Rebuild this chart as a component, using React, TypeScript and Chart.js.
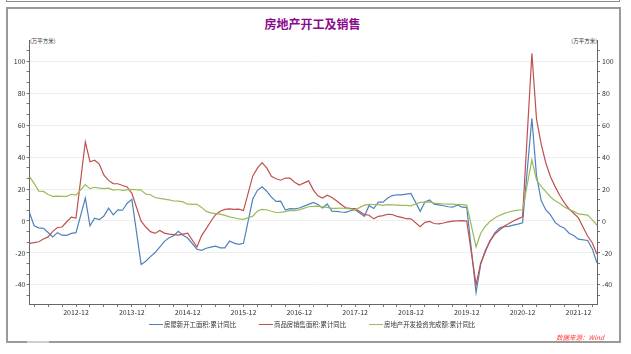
import React, { useEffect, useRef } from 'react';
import { Chart, registerables } from 'chart.js';

Chart.register(...registerables);

// Months with data (Jan is folded into Feb in cumulative statistics)
const firstYear = 2012;
const lastYear = 2022;
const lastMonthOfLastYear = 4;
const monthLabels: string[] = [];
for (let y = firstYear; y <= lastYear; y++) {
  for (let m = 2; m <= 12; m++) {
    if (y === lastYear && m > lastMonthOfLastYear) break;
    monthLabels.push(`${y}-${String(m).padStart(2, '0')}`);
  }
}

const seriesNames = ['房屋新开工面积:累计同比', '商品房销售面积:累计同比', '房地产开发投资完成额:累计同比'];
const seriesColors = ['#4f81bd', '#c0504d', '#9bbb59'];

// 房屋新开工面积:累计同比 (Feb..Dec per year)
const newStarts = [
  5.1, -3.0, -4.3, -4.6, -7.2, -10.0, -7.3, -8.9, -9.0, -7.8, -7.3,
  14.3, -3.1, 1.7, 0.8, 3.1, 8.0, 3.8, 6.9, 6.7, 11.1, 13.5,
  -27.2, -25.2, -22.3, -19.8, -16.4, -12.8, -10.5, -9.3, -6.5, -9.0, -10.7,
  -17.7, -18.4, -17.1, -16.4, -15.8, -16.8, -16.8, -12.6, -13.9, -14.7, -14.0,
  13.7, 19.2, 21.4, 18.6, 14.9, 12.2, 12.4, 6.8, 7.7, 7.6, 8.1,
  10.4, 11.6, 10.3, 8.1, 10.6, 6.2, 6.0, 5.6, 5.4, 6.4, 7.0,
  2.9, 9.7, 7.8, 11.8, 11.8, 14.4, 15.9, 16.4, 16.3, 16.8, 17.2,
  6.0, 11.9, 13.1, 10.5, 10.1, 9.5, 8.9, 8.6, 10.0, 8.6, 8.5,
  -44.9, -27.2, -18.4, -12.8, -7.6, -4.5, -3.6, -3.4, -2.6, -2.0, -1.2,
  64.3, 28.2, 12.8, 6.9, 3.8, -0.9, -3.2, -4.5, -7.7, -9.1, -11.4,
  -12.2, -17.5, -26.3,
];

// 商品房销售面积:累计同比
const sales = [
  -14.0, -13.6, -13.0, -11.3, -10.0, -6.5, -4.1, -3.8, -0.5, 2.4, 1.8,
  49.5, 37.1, 38.0, 35.6, 28.7, 25.4, 23.4, 23.3, 22.2, 21.3, 17.3,
  -0.1, -3.8, -6.7, -7.8, -6.0, -7.6, -8.3, -8.6, -8.9, -8.2, -7.6,
  -16.3, -9.2, -4.8, -0.2, 3.9, 6.1, 7.2, 7.5, 7.2, 7.4, 6.5,
  28.2, 33.1, 36.5, 33.2, 27.9, 26.4, 25.5, 26.9, 26.8, 24.3, 22.5,
  25.1, 19.5, 15.7, 14.3, 16.1, 14.7, 12.7, 10.3, 8.2, 7.9, 7.7,
  4.1, 3.6, 1.3, 2.9, 3.3, 4.2, 4.0, 2.9, 2.2, 1.4, 1.3,
  -3.6, -0.9, -0.3, -1.6, -1.8, -1.3, -0.6, -0.1, 0.1, 0.2, -0.1,
  -39.9, -26.3, -19.3, -12.3, -8.4, -5.8, -3.3, -1.8, 0.0, 1.3, 2.6,
  104.9, 63.8, 48.1, 36.3, 27.7, 21.5, 15.9, 11.3, 7.5, 4.8, 1.9,
  -9.6, -13.8, -20.9,
];

// 房地产开发投资完成额:累计同比
const investment = [
  27.8, 23.5, 18.7, 18.5, 16.6, 15.4, 15.6, 15.4, 15.4, 16.7, 16.2,
  22.8, 20.2, 21.1, 20.6, 20.3, 20.5, 19.3, 19.7, 19.2, 19.5, 19.8,
  19.3, 16.8, 16.4, 14.7, 14.1, 13.7, 13.2, 12.5, 12.4, 11.9, 10.5,
  10.4, 8.5, 6.0, 5.1, 4.6, 4.3, 3.5, 2.6, 2.0, 1.3, 1.0,
  3.0, 6.2, 7.2, 7.0, 6.1, 5.3, 5.4, 5.8, 6.6, 6.5, 6.9,
  8.9, 9.1, 9.3, 8.8, 8.5, 7.9, 7.9, 8.1, 7.8, 7.5, 7.0,
  9.9, 10.4, 10.3, 10.2, 9.7, 10.2, 10.1, 9.9, 9.7, 9.7, 9.5,
  11.6, 11.8, 11.9, 11.2, 10.9, 10.6, 10.5, 10.5, 10.3, 10.2, 9.9,
  -16.3, -7.7, -3.3, -0.3, 1.9, 3.4, 4.6, 5.6, 6.3, 6.8, 7.0,
  38.3, 25.6, 21.6, 18.3, 15.0, 12.7, 10.9, 8.8, 7.2, 6.0, 4.4,
  3.7, 0.7, -2.7,
];

const xTickLabels = ['2012-12', '2013-12', '2014-12', '2015-12', '2016-12', '2017-12', '2018-12', '2019-12', '2020-12', '2021-12'];
const yTickLabels = [-40, -20, 0, 20, 40, 60, 80, 100];
const yMin = -52;
const yMax = 113.3;

const monthIndex = (label: string) => {
  const [y, m] = label.split('-').map(Number);
  return (y - firstYear) * 12 + (m - 2);
};
const xMax = monthIndex(monthLabels[monthLabels.length - 1]);
const xTickValues: number[] = [];
for (let v = 1; v <= xMax; v += 3) xTickValues.push(v);
const xLabelAt = (v: number) => {
  const hit = xTickLabels.find((l) => monthIndex(l) === v);
  return hit || '';
};
const yMinorStep = 20 / 3;
const yTickValues: number[] = [];
for (let k = Math.ceil(yMin / yMinorStep); k * yMinorStep <= yMax; k++) yTickValues.push(k * yMinorStep);
const isMajorY = (v: number) => yTickLabels.some((t) => Math.abs(t - v) < 1e-6);
const yLabelAt = (v: number) => {
  const hit = yTickLabels.find((t) => Math.abs(t - v) < 1e-6);
  return hit === undefined ? '' : String(hit);
};

const FONT = '"Noto Sans CJK SC", "Noto Sans", sans-serif';

export default function App() {
  const canvasRef = useRef<HTMLCanvasElement | null>(null);

  useEffect(() => {
    const canvas = canvasRef.current;
    if (!canvas) return;
    const seriesValues = [newStarts, sales, investment];
    const chart = new Chart(canvas, {
      type: 'line',
      data: {
        datasets: seriesValues.map((vals, i) => ({
          label: seriesNames[i],
          data: monthLabels.map((lab, j) => ({ x: monthIndex(lab), y: vals[j] })),
          borderColor: seriesColors[i],
          backgroundColor: seriesColors[i],
          borderWidth: 1.2,
          pointRadius: 0,
          tension: 0,
          order: 3 - i,
        })),
      },
      options: {
        animation: false,
        responsive: false,
        devicePixelRatio: 1,
        layout: { padding: { top: 40, left: 0, right: 0, bottom: 0 } },
        plugins: { legend: { display: false }, title: { display: false }, tooltip: { enabled: false } },
        scales: {
          x: {
            type: 'linear',
            min: 0,
            max: xMax,
            afterBuildTicks: (scale: any) => {
              scale.ticks = xTickValues.map((v) => ({ value: v }));
            },
            afterFit: (scale: any) => {
              scale.height = 50;
              scale.paddingLeft = 0;
              scale.paddingRight = 0;
            },
            ticks: {
              autoSkip: false,
              maxRotation: 0,
              minRotation: 0,
              padding: 1,
              color: '#333',
              font: { family: FONT, size: 7 },
              callback: (v: any) => xLabelAt(Number(v)),
            },
            grid: { drawOnChartArea: false, drawTicks: true, tickLength: 3, color: '#777', tickColor: '#777' },
            border: { display: true, color: '#666', width: 1 },
          },
          y: {
            type: 'linear',
            position: 'left',
            min: yMin,
            max: yMax,
            afterBuildTicks: (scale: any) => {
              scale.ticks = yTickValues.map((v) => ({ value: v }));
            },
            afterFit: (scale: any) => {
              scale.width = 29.5;
              scale.paddingTop = 0;
              scale.paddingBottom = 0;
            },
            ticks: {
              autoSkip: false,
              padding: 1,
              color: '#333',
              font: { family: FONT, size: 7 },
              callback: (v: any) => yLabelAt(Number(v)),
            },
            grid: {
              drawOnChartArea: true,
              drawTicks: true,
              tickLength: 3,
              color: (ctx: any) => (ctx.tick && isMajorY(ctx.tick.value) ? '#eeeeee' : 'rgba(0,0,0,0)'),
              tickColor: '#777',
            },
            border: { display: true, color: '#666', width: 1 },
          },
          y2: {
            type: 'linear',
            position: 'right',
            min: yMin,
            max: yMax,
            afterBuildTicks: (scale: any) => {
              scale.ticks = yTickValues.map((v) => ({ value: v }));
            },
            afterFit: (scale: any) => {
              scale.width = 34;
              scale.paddingTop = 0;
              scale.paddingBottom = 0;
            },
            ticks: {
              autoSkip: false,
              padding: 2,
              color: '#333',
              font: { family: FONT, size: 7 },
              callback: (v: any) => yLabelAt(Number(v)),
            },
            grid: { drawOnChartArea: false, drawTicks: true, tickLength: 3, color: '#777', tickColor: '#777' },
            border: { display: true, color: '#666', width: 1 },
          },
        },
      } as any,
    });
    return () => chart.destroy();
  }, []);

  const legendPos = [149, 259, 369];

  return (
    <div style={{ position: 'fixed', left: 0, top: 0, width: 631, height: 354, background: '#fff', overflow: 'hidden', fontFamily: FONT }}>
      {/* top frame remnant */}
      <div style={{ position: 'absolute', left: 6, top: -10, width: 614, height: 12, border: '1px solid #8a8a8a', boxSizing: 'border-box' }} />
      {/* outer box */}
      <div style={{ position: 'absolute', left: 6, top: 7, width: 615, height: 336, border: '2px solid #9a9a9a', boxSizing: 'border-box' }} />
      <div style={{ position: 'absolute', left: 27, top: 341, width: 22, height: 2, background: '#cfcfcf' }} />
      <div
        style={{
          position: 'absolute', left: 0, width: 631, top: 15, textAlign: 'center', fontSize: 12, fontWeight: 'bold',
          color: '#8b0a8b', lineHeight: '18px', paddingLeft: 0,
        }}
      >
        <span style={{ position: 'relative', left: -3 }}>房地产开工及销售</span>
      </div>
      <div style={{ position: 'absolute', left: 30, top: 38, fontSize: 5.5, color: '#333', lineHeight: '7px', whiteSpace: 'nowrap' }}>(万平方米)</div>
      <div style={{ position: 'absolute', right: 631 - 597, top: 38, fontSize: 5.5, color: '#333', lineHeight: '7px', whiteSpace: 'nowrap' }}>(万平方米)</div>
      <canvas ref={canvasRef} width={631} height={354} style={{ position: 'absolute', left: 0, top: 0, width: 631, height: 354 }} />
      {seriesNames.map((name, i) => (
        <div key={name} style={{ position: 'absolute', left: legendPos[i], top: 320, height: 9, display: 'flex', alignItems: 'center', whiteSpace: 'nowrap' }}>
          <div style={{ width: 14, height: 1, background: seriesColors[i], marginRight: 1 }} />
          <span style={{ fontSize: 6.4, color: '#333', lineHeight: '9px' }}>{name}</span>
        </div>
      ))}
      <div style={{ position: 'absolute', left: 556, top: 333, fontSize: 6.5, color: '#ff3b3b', fontStyle: 'italic', lineHeight: '8px', whiteSpace: 'nowrap' }}>数据来源：Wind</div>
    </div>
  );
}
